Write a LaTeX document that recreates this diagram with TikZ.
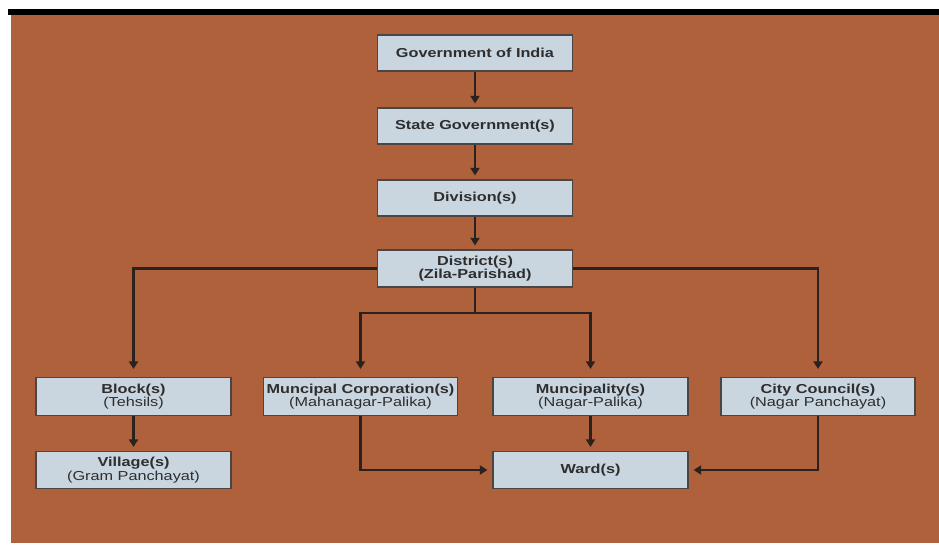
\documentclass[tikz,border=0pt]{standalone}
\usepackage{fontspec}
\setmainfont{Liberation Sans}[FakeStretch=1.25]
\usetikzlibrary{arrows.meta}
\definecolor{bgbrown}{HTML}{AE613B}
\definecolor{boxfill}{HTML}{C9D5DF}
\definecolor{boxline}{HTML}{4A4646}
\definecolor{txt}{HTML}{2E2E2E}
\definecolor{conn}{HTML}{2A221E}
\tikzset{
  orgbox/.style={draw=boxline, line width=1.2pt, fill=boxfill, rectangle,
    minimum width=195pt, minimum height=36pt, inner sep=0pt, align=center,
    text=txt, font={\fontsize{13}{13.5}\selectfont}},
  conline/.style={draw=conn, line width=2.2pt,
    -{Triangle[width=9pt,length=7.5pt]}},
  plainline/.style={draw=conn, line width=2.2pt}
}
\begin{document}
\begin{tikzpicture}[x=1pt,y=-1pt]
\useasboundingbox (0,0) rectangle (939,547);
\fill[white] (0,0) rectangle (939,547);
\fill[black] (8,9) rectangle (939,14.5);
\fill[bgbrown] (11,15) rectangle (939,543);

\node[orgbox] (gov) at (475,53) {\textbf{Government of India}};
\node[orgbox] (state) at (475,126) {\textbf{State Government(s)}};
\node[orgbox] (div) at (475,198) {\textbf{Division(s)}};
\node[orgbox, minimum height=37pt] (dist) at (475,268.5) {\textbf{District(s)}\\\textbf{(Zila-Parishad)}};

\node[orgbox, minimum height=38pt] (block) at (133.5,396.5) {\textbf{Block(s)}\\(Tehsils)};
\node[orgbox, minimum height=38pt, minimum width=194pt] (mc) at (360.5,396.5) {\textbf{Muncipal Corporation(s)}\\(Mahanagar-Palika)};
\node[orgbox, minimum height=38pt] (mun) at (590.5,396.5) {\textbf{Muncipality(s)}\\(Nagar-Palika)};
\node[orgbox, minimum height=38pt, minimum width=194pt] (city) at (818,396.5) {\textbf{City Council(s)}\\(Nagar Panchayat)};

\node[orgbox, minimum height=37pt] (village) at (133.5,470) {\textbf{Village(s)}\\(Gram Panchayat)};
\node[orgbox, minimum height=37pt] (ward) at (590.5,470) {\textbf{Ward(s)}};

\coordinate (split) at (475,313);

\draw[conline, shorten >=4pt] (gov.south) -- (state.north);
\draw[conline, shorten >=4pt] (state.south) -- (div.north);
\draw[conline, shorten >=4pt] (div.south) -- (dist.north);

\draw[conline, shorten >=8pt] (dist.west) -| (block.north);
\draw[conline, shorten >=8pt] (dist.east) -| (city.north);
\draw[plainline] (dist.south) -- (split);
\draw[conline, shorten >=8pt] (split) -| (mc.north);
\draw[conline, shorten >=8pt] (split) -| (mun.north);

\draw[conline, shorten >=4pt] (block.south) -- (village.north);
\draw[conline, shorten >=4pt] (mun.south) -- (ward.north);
\draw[conline, shorten >=5pt] (mc.south) |- (ward.west);
\draw[conline, shorten >=5pt] (city.south) |- (ward.east);
\end{tikzpicture}
\end{document}
